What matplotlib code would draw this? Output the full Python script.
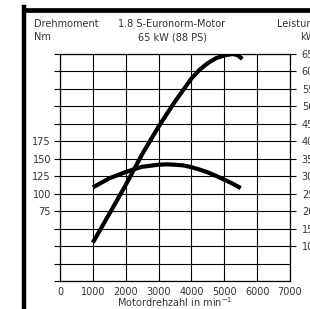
import matplotlib.pyplot as plt
from matplotlib.lines import Line2D

# engine curves
rpm_torque = [1000, 1500, 2000, 2250, 2500, 3000, 3250, 3500, 3750, 4000,
              4250, 4500, 4750, 5000, 5250, 5500]
torque_nm = [109, 122, 131, 135, 138.5, 141.5, 142, 141.5, 140.5, 138,
             134.5, 130.5, 125.5, 120, 114.5, 108]

rpm_power = [1000, 1500, 2000, 2500, 3000, 3500, 4000, 4250, 4500, 4750,
             5000, 5250, 5400, 5550]
power_kw = [11, 19.2, 27.5, 36.3, 44.2, 51.4, 58, 60.5, 62.4, 63.8,
            64.6, 65, 64.7, 63.6]

x_ticks = [0, 1000, 2000, 3000, 4000, 5000, 6000, 7000]
nm_ticks = [-25, 0, 25, 50, 75, 100, 125, 150, 175, 200, 225, 250, 275, 300]
nm_labels = ['', '', '', '', '75', '100', '125', '150', '175', '', '', '', '', '']
kw_ticks = [10, 15, 20, 25, 30, 35, 40, 45, 50, 55, 60, 65]

txt = '#333333'
fs = 7

fig = plt.figure(figsize=(3.10, 3.09), dpi=100)
ax = fig.add_axes([60 / 310, 28 / 309, 230 / 310, 227 / 309])
ax.set_xlim(0, 7000)
ax.set_ylim(-25, 300)
ax.set_xticks(x_ticks)
ax.set_xticklabels([str(v) for v in x_ticks], fontsize=fs, color=txt)
ax.set_yticks(nm_ticks)
ax.set_yticklabels(nm_labels, fontsize=fs, color=txt)
ax.tick_params(axis='x', length=0, pad=4)
ax.tick_params(axis='y', length=4.5, width=0.8, direction='out', pad=2)
ax.grid(True, color='black', linewidth=0.8)
for s in ax.spines.values():
    s.set_linewidth(0.9)
ax.set_xlabel('Motordrehzahl in min$^{-1}$', fontsize=fs, color=txt, labelpad=-1)

ax.plot(rpm_torque, torque_nm, color='black', linewidth=3,
        solid_capstyle='butt', solid_joinstyle='round')

ax2 = ax.twinx()
ax2.set_ylim(0, 65)
ax2.set_yticks(kw_ticks)
ax2.set_yticklabels([str(v) for v in kw_ticks], fontsize=fs, color=txt)
ax2.tick_params(axis='y', length=4.5, width=0.8, direction='out', pad=4)
ax2.plot(rpm_power, power_kw, color='black', linewidth=3,
         solid_capstyle='butt', solid_joinstyle='round')
for s in ax2.spines.values():
    s.set_visible(False)

# headings
fig.text(34 / 310, 1 - 24 / 309, 'Drehmoment', fontsize=fs, color=txt, va='center')
fig.text(34 / 310, 1 - 37 / 309, 'Nm', fontsize=fs, color=txt, va='center')
fig.text(172 / 310, 1 - 24 / 309, '1.8 S-Euronorm-Motor', fontsize=fs, color=txt,
         va='center', ha='center')
fig.text(172 / 310, 1 - 37 / 309, '65 kW (88 PS)', fontsize=fs, color=txt,
         va='center', ha='center')
fig.text(277 / 310, 1 - 24 / 309, 'Leistung', fontsize=fs, color=txt, va='center')
fig.text(300 / 310, 1 - 37 / 309, 'kW', fontsize=fs, color=txt, va='center')

# thick frame at top and left
fig.add_artist(Line2D([23.8 / 310, 1.0], [1 - 9.7 / 309, 1 - 9.7 / 309],
                      transform=fig.transFigure, color='black', linewidth=3.4))
fig.add_artist(Line2D([23.8 / 310, 23.8 / 310], [1 - 7.3 / 309, 0],
                      transform=fig.transFigure, color='black', linewidth=3.2))

plt.savefig('out.png', dpi=100)
